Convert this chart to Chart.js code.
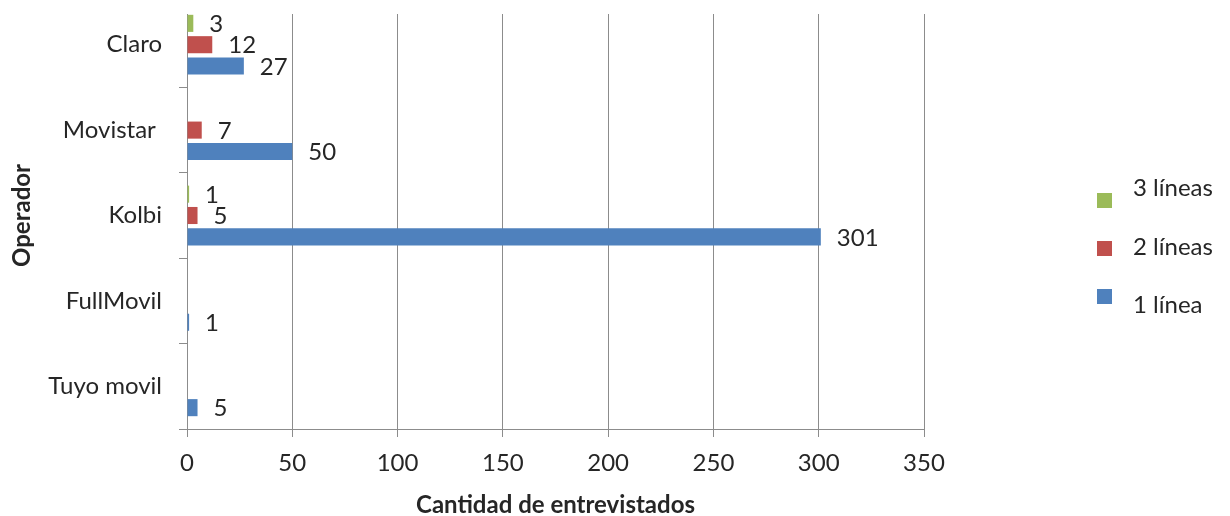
<!DOCTYPE html>
<html>
<head>
<meta charset="utf-8">
<script src="https://cdn.jsdelivr.net/npm/chart.js@4/dist/chart.umd.min.js"></script>
<style>
    body { margin: 0; background: #fff; }
</style>
</head>
<body>
<canvas id="myChart" width="1230" height="516"></canvas>
<script>
// datos
var operadores = ['Claro', 'Movistar ', 'Kolbi', 'FullMovil', 'Tuyo movil'];
var tresLineas = [3, null, 1, null, null];
var dosLineas = [12, 7, 5, null, null];
var unaLinea = [27, 50, 301, 1, 5];
var series = ['3 líneas', '2 líneas', '1 línea'];
var ejeMin = 0, ejeMax = 350, ejePaso = 50;

var fuente = 'Lato';
var tam = 24;
var gris = '#8c8c8c';
var texto = '#262626';

// el area de dibujo de excel empieza un poco mas abajo que las categorias
var recorte = {
    id: 'recorte',
    beforeDatasetsDraw: function(chart) {
        var a = chart.chartArea;
        chart.ctx.save();
        chart.ctx.fillStyle = '#fff';
        chart.ctx.fillRect(a.left - 12, 0, a.right - a.left + 14, a.top + 12);
        chart.ctx.restore();
    }
};

// etiquetas de valor al final de cada barra
var etiquetas = {
    id: 'etiquetas',
    afterDatasetsDraw: function(chart) {
        var ctx = chart.ctx;
        ctx.save();
        ctx.font = tam + 'px ' + fuente;
        ctx.fillStyle = texto;
        ctx.textAlign = 'left';
        ctx.textBaseline = 'middle';
        chart.data.datasets.forEach(function(ds, i) {
            chart.getDatasetMeta(i).data.forEach(function(bar, j) {
                if (ds.data[j] == null) return;
                ctx.fillText(ds.data[j], bar.x + 16, bar.y + 1);
            });
        });
        ctx.restore();
    }
};

// leyenda tipo excel a la derecha
var leyenda = {
    id: 'leyenda',
    afterDraw: function(chart) {
        var ctx = chart.ctx;
        var textoY = [188, 247, 305];
        var cajaY = [200, 248, 296];
        ctx.save();
        ctx.font = tam + 'px ' + fuente;
        ctx.textBaseline = 'middle';
        chart.data.datasets.forEach(function(ds, i) {
            ctx.fillStyle = ds.backgroundColor;
            ctx.fillRect(1097, cajaY[i] - 7, 15, 15);
            ctx.fillStyle = texto;
            ctx.fillText(ds.label, 1133, textoY[i]);
        });
        ctx.restore();
    }
};

new Chart(document.getElementById('myChart').getContext('2d'), {
    type: 'bar',
    data: {
        labels: operadores,
        datasets: [
            { label: series[0], data: tresLineas, backgroundColor: '#9BBB59', minBarLength: 2 },
            { label: series[1], data: dosLineas, backgroundColor: '#C0504D', minBarLength: 2 },
            { label: series[2], data: unaLinea, backgroundColor: '#4F81BD', minBarLength: 2 }
        ]
    },
    options: {
        indexAxis: 'y',
        responsive: false,
        animation: false,
        categoryPercentage: 0.75,
        barPercentage: 0.8,
        layout: { padding: { top: 2, right: 306, left: 0, bottom: 0 } },
        plugins: {
            legend: { display: false },
            tooltip: { enabled: false }
        },
        scales: {
            x: {
                min: ejeMin,
                max: ejeMax,
                ticks: { stepSize: ejePaso, color: texto, padding: 12, font: { family: fuente, size: tam } },
                grid: { color: gris, tickLength: 8 },
                border: { color: gris },
                title: {
                    display: true,
                    text: 'Cantidad de entrevistados',
                    color: texto,
                    padding: { top: 0, bottom: -4 },
                    font: { family: fuente, size: tam, weight: 'bold' }
                },
                afterFit: function(scale) {
                    scale.height = 87;
                    scale.paddingLeft = 0;
                    scale.paddingRight = 0;
                }
            },
            y: {
                ticks: { color: texto, padding: 17, font: { family: fuente, size: tam } },
                grid: { drawOnChartArea: false, color: gris, tickLength: 8 },
                border: { color: gris },
                title: {
                    display: true,
                    text: 'Operador',
                    color: texto,
                    padding: { top: 8 },
                    font: { family: fuente, size: tam, weight: 'bold' }
                },
                afterFit: function(scale) {
                    scale.width = 187;
                    scale.paddingTop = 0;
                    scale.paddingBottom = 0;
                }
            }
        }
    },
    plugins: [recorte, etiquetas, leyenda]
});
</script>
</body>
</html>
